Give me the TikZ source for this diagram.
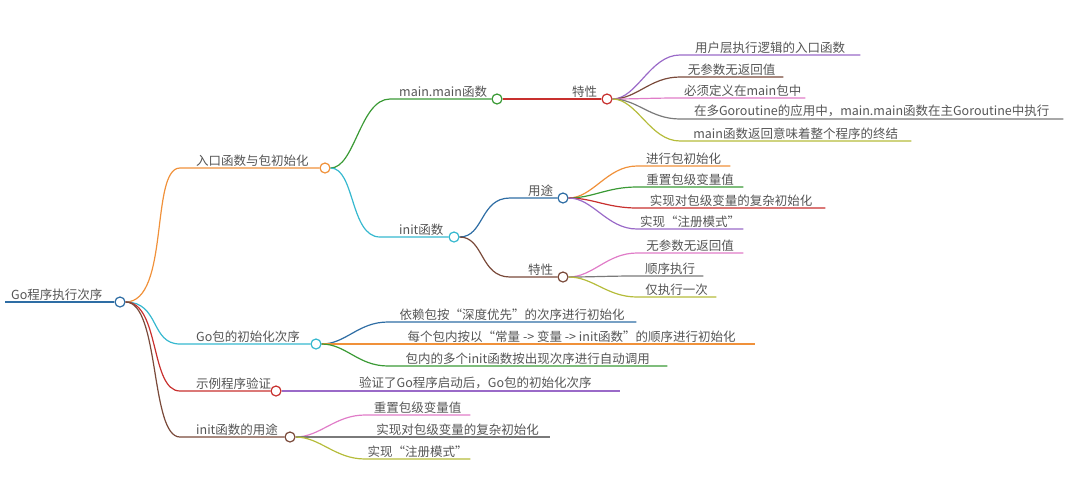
\documentclass[tikz,border=0pt]{standalone}
\usepackage{fontspec}
\setmainfont{Noto Sans CJK SC}
\usetikzlibrary{positioning}
\definecolor{txtgray}{HTML}{555555}
\definecolor{cblue}{HTML}{2E6DA4}
\definecolor{corange}{HTML}{F0913A}
\definecolor{ccyan}{HTML}{36B8CF}
\definecolor{cred}{HTML}{C8302E}
\definecolor{cbrown}{HTML}{7A4A3A}
\definecolor{cgreen}{HTML}{3A9A35}
\definecolor{cpurple}{HTML}{9A6AC8}
\definecolor{cpink}{HTML}{E07CC8}
\definecolor{cgray}{HTML}{7A7A7A}
\definecolor{colive}{HTML}{B5BC3A}
\tikzset{
  lbl/.style={anchor=south west,inner xsep=1pt,inner ysep=1.5pt,text=txtgray,font=\fontsize{12.5}{14}\selectfont},
  knot/.style={circle,draw,fill=white,line width=1.2pt,minimum size=10pt,inner sep=0pt},
  link/.style={line width=1.2pt}
}
\begin{document}
\begin{tikzpicture}[x=1pt,y=-1pt]
\useasboundingbox (0,0) rectangle (1080,480);

% root and first level
\node (root) [lbl] at (10,302) {Go程序执行次序};
\node (croot) [knot,draw=cblue] at (120,302) {};
\draw[cblue,line width=2.5pt] (5,302) -- (croot);

\node (entry) [lbl] at (195,168) {入口函数与包初始化};
\node (centry) [knot,draw=corange] at (325,168) {};
\node (order) [lbl] at (195,344) {Go包的初始化次序};
\node (corder) [knot,draw=ccyan] at (316,344) {};
\node (demo) [lbl] at (195,391) {示例程序验证};
\node (cdemo) [knot,draw=cred] at (276,391) {};
\node (use) [lbl] at (195,437) {init函数的用途};
\node (cuse) [knot,draw=cbrown] at (290,437) {};

\draw[link,corange] (croot) .. controls +(50,0) and +(-30,0) .. (180,168) -- (centry);
\draw[link,ccyan] (croot) .. controls +(40,0) and +(-30,0) .. (180,344) -- (corder);
\draw[link,cred] (croot) .. controls +(40,0) and +(-30,0) .. (180,391) -- (cdemo);
\draw[link,cbrown] (croot) .. controls +(40,0) and +(-30,0) .. (180,437) -- (cuse);

% second level
\node (mainf) [lbl] at (398,99) {main.main函数};
\node (cmainf) [knot,draw=cgreen] at (497,99) {};
\node (initf) [lbl] at (398,237) {init函数};
\node (cinitf) [knot,draw=ccyan] at (454,237) {};
\draw[link,cgreen] (centry) .. controls +(30,0) and +(-30,0) .. (390,99) -- (cmainf);
\draw[link,ccyan] (centry) .. controls +(30,0) and +(-30,0) .. (380,237) -- (cinitf);

\node (feat) [lbl] at (571,99) {特性};
\node (cfeat) [knot,draw=cred] at (607,99) {};
\draw[link,cred] (cmainf) -- (cfeat);
\node (purp) [lbl] at (527,198) {用途};
\node (cpurp) [knot,draw=cblue] at (563,198) {};
\node (ifeat) [lbl] at (527,277) {特性};
\node (cifeat) [knot,draw=cbrown] at (563,277) {};
\draw[link,cblue] (cinitf) .. controls +(30,0) and +(-30,0) .. (510,198) -- (cpurp);
\draw[link,cbrown] (cinitf) .. controls +(30,0) and +(-30,0) .. (510,277) -- (cifeat);

% leaves of main.main
\node (m1) [lbl,minimum width=180pt] at (680,55) {用户层执行逻辑的入口函数};
\node (m2) [lbl,minimum width=103pt] at (680,77) {无参数无返回值};
\node (m3) [lbl,minimum width=125pt] at (680,98) {必须定义在main包中};
\node (m4) [lbl,minimum width=383pt] at (680,119) {在多Goroutine的应用中，main.main函数在主Goroutine中执行};
\node (m5) [lbl,minimum width=231pt] at (680,141) {main函数返回意味着整个程序的终结};
\foreach \n/\c in {m1/cpurple,m2/cbrown,m3/cpink,m4/cgray,m5/colive}{
  \draw[link,\c] (cfeat) .. controls +(30,0) and +(-30,0) .. (\n.south west) -- (\n.south east);
}

% leaves of init
\node (u1) [lbl,minimum width=93pt] at (637,166) {进行包初始化};
\node (u2) [lbl,minimum width=106pt] at (637,187) {重置包级变量值};
\node (u3) [lbl,minimum width=188pt] at (637,208) {实现对包级变量的复杂初始化};
\node (u4) [lbl,minimum width=106pt] at (637,229) {实现“注册模式”};
\foreach \n/\c in {u1/corange,u2/cgreen,u3/cred,u4/cpurple}{
  \draw[link,\c] (cpurp) .. controls +(30,0) and +(-30,0) .. (\n.south west) -- (\n.south east);
}
\node (f1) [lbl,minimum width=106pt] at (637,253) {无参数无返回值};
\node (f2) [lbl,minimum width=66pt] at (637,276) {顺序执行};
\node (f3) [lbl,minimum width=79pt] at (637,297) {仅执行一次};
\foreach \n/\c in {f1/cpink,f2/cgray,f3/colive}{
  \draw[link,\c] (cifeat) .. controls +(30,0) and +(-30,0) .. (\n.south west) -- (\n.south east);
}

% leaves of package order
\node (o1) [lbl,minimum width=248pt] at (388,322) {依赖包按“深度优先”的次序进行初始化};
\node (o2) [lbl,minimum width=367pt] at (388,344) {每个包内按以“常量 -> 变量 -> init函数”的顺序进行初始化};
\node (o3) [lbl,minimum width=279pt] at (388,366) {包内的多个init函数按出现次序进行自动调用};
\foreach \n/\c in {o1/cblue,o2/corange,o3/cgreen}{
  \draw[link,\c] (corder) .. controls +(30,0) and +(-30,0) .. (\n.south west) -- (\n.south east);
}

% demo and use leaves
\node (d1) [lbl] at (358,391) {验证了Go程序启动后，Go包的初始化次序};
\draw[link,cpurple] (cdemo) -- (620,391);
\node (s1) [lbl,minimum width=105pt] at (365,415) {重置包级变量值};
\node (s2) [lbl,minimum width=185pt] at (365,437) {实现对包级变量的复杂初始化};
\node (s3) [lbl,minimum width=105pt] at (365,459) {实现“注册模式”};
\foreach \n/\c in {s1/cpink,s2/cgray,s3/colive}{
  \draw[link,\c] (cuse) .. controls +(30,0) and +(-30,0) .. (\n.south west) -- (\n.south east);
}
\end{tikzpicture}
\end{document}
